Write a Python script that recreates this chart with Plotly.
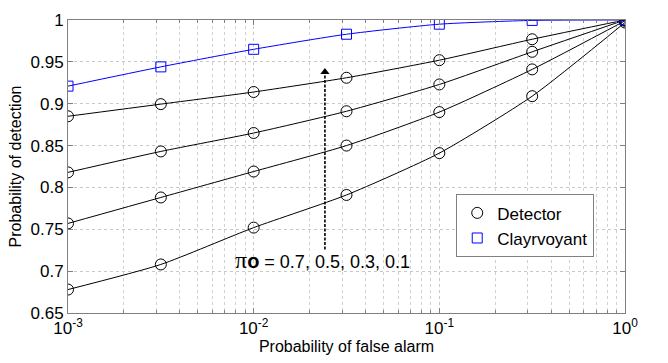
import math
import plotly.graph_objects as go

pfa = [1e-3, 10**-2.5, 1e-2, 10**-1.5, 1e-1, 10**-0.5, 1.0]
pd_07 = [0.885, 0.8995, 0.914, 0.931, 0.952, 0.977, 1.0]
pd_05 = [0.818, 0.843, 0.865, 0.891, 0.923, 0.962, 1.0]
pd_03 = [0.757, 0.788, 0.819, 0.850, 0.890, 0.941, 0.999]
pd_01 = [0.678, 0.708, 0.752, 0.791, 0.841, 0.909, 0.997]
pd_clair = [0.921, 0.944, 0.965, 0.983, 0.995, 0.9995, 1.0]

x_ticks = [1e-3, 1e-2, 1e-1, 1]
x_ticktext = ["10<sup>-3</sup>", "10<sup>-2</sup>", "10<sup>-1</sup>", "10<sup>0</sup>"]
y_ticks = [0.65, 0.7, 0.75, 0.8, 0.85, 0.9, 0.95, 1.0]
y_ticktext = ["0.65", "0.7", "0.75", "0.8", "0.85", "0.9", "0.95", "1"]

arrow_x = 0.0242
arrow_y0 = 0.726
arrow_y1 = 0.935
arrow_head_y = 0.938
label_x = 0.0236
label_y = 0.713
label_text = ("<span style='font-family:Liberation Serif;font-size:24px'>π</span>"
              "<span style='font-size:20px'><b>o</b></span> = 0.7, 0.5, 0.3, 0.1")

FONT = "Liberation Sans, Arial, sans-serif"

fig = go.Figure()
for ys in [pd_07, pd_05, pd_03, pd_01]:
    fig.add_trace(go.Scatter(x=pfa, y=ys, mode="lines", line=dict(color="black", width=1, shape="spline", smoothing=0.6),
                             showlegend=False, hoverinfo="skip"))
fig.add_trace(go.Scatter(x=pfa, y=pd_clair, mode="lines", line=dict(color="#0000ff", width=1, shape="spline", smoothing=0.6),
                         showlegend=False, hoverinfo="skip"))
for i, ys in enumerate([pd_07, pd_05, pd_03, pd_01]):
    fig.add_trace(go.Scatter(x=pfa, y=ys, mode="markers", name="Detector",
                             marker=dict(symbol="circle-open", size=11, color="black", line=dict(width=1)),
                             showlegend=(i == 0), legendgroup="det"))
fig.add_trace(go.Scatter(x=pfa, y=pd_clair, mode="markers", name="Clayrvoyant",
                         marker=dict(symbol="square-open", size=10, color="#0000ff", line=dict(width=1)),
                         showlegend=True))

fig.add_shape(type="line", x0=arrow_x, x1=arrow_x, y0=arrow_y0, y1=arrow_y1,
              line=dict(color="black", width=1.6, dash="3px,1.5px"))
fig.add_trace(go.Scatter(x=[arrow_x], y=[arrow_head_y], mode="markers", showlegend=False, hoverinfo="skip",
                         marker=dict(symbol="triangle-up", size=8, color="black", line=dict(width=0))))
fig.add_annotation(x=math.log10(label_x), y=label_y, text=label_text, showarrow=False,
                   font=dict(family=FONT, size=18, color="black"), xanchor="center", yanchor="middle")

axis_common = dict(showline=True, linecolor="#808080", linewidth=1, mirror="ticks", ticks="inside",
                   ticklen=5, tickcolor="#808080", showgrid=True, gridcolor="#c8c8c8", griddash="dot",
                   gridwidth=1, zeroline=False, tickfont=dict(family=FONT, size=17, color="black"))

fig.update_xaxes(type="log", range=[-3, 0], tickvals=x_ticks, ticktext=x_ticktext,
                 title=dict(text="Probability of false alarm", font=dict(family=FONT, size=16, color="black"), standoff=2),
                 minor=dict(dtick="D1", showgrid=True, gridcolor="#d0d0d0", griddash="dot", ticks="inside",
                            ticklen=3, tickcolor="#808080"),
                 **axis_common)
fig.update_yaxes(range=[0.65, 1.0], tickvals=y_ticks, ticktext=y_ticktext,
                 title=dict(text="Probability of detection", font=dict(family=FONT, size=16, color="black"), standoff=4),
                 **axis_common)

fig.update_layout(width=668, height=363, margin=dict(l=68, r=43, t=11, b=48),
                  plot_bgcolor="white", paper_bgcolor="white",
                  legend=dict(x=0.697, y=0.405, xanchor="left", yanchor="top", bgcolor="white",
                              bordercolor="#808080", borderwidth=1, font=dict(family=FONT, size=17, color="black"),
                              itemwidth=30, tracegroupgap=0))

fig.write_html("out.html")
